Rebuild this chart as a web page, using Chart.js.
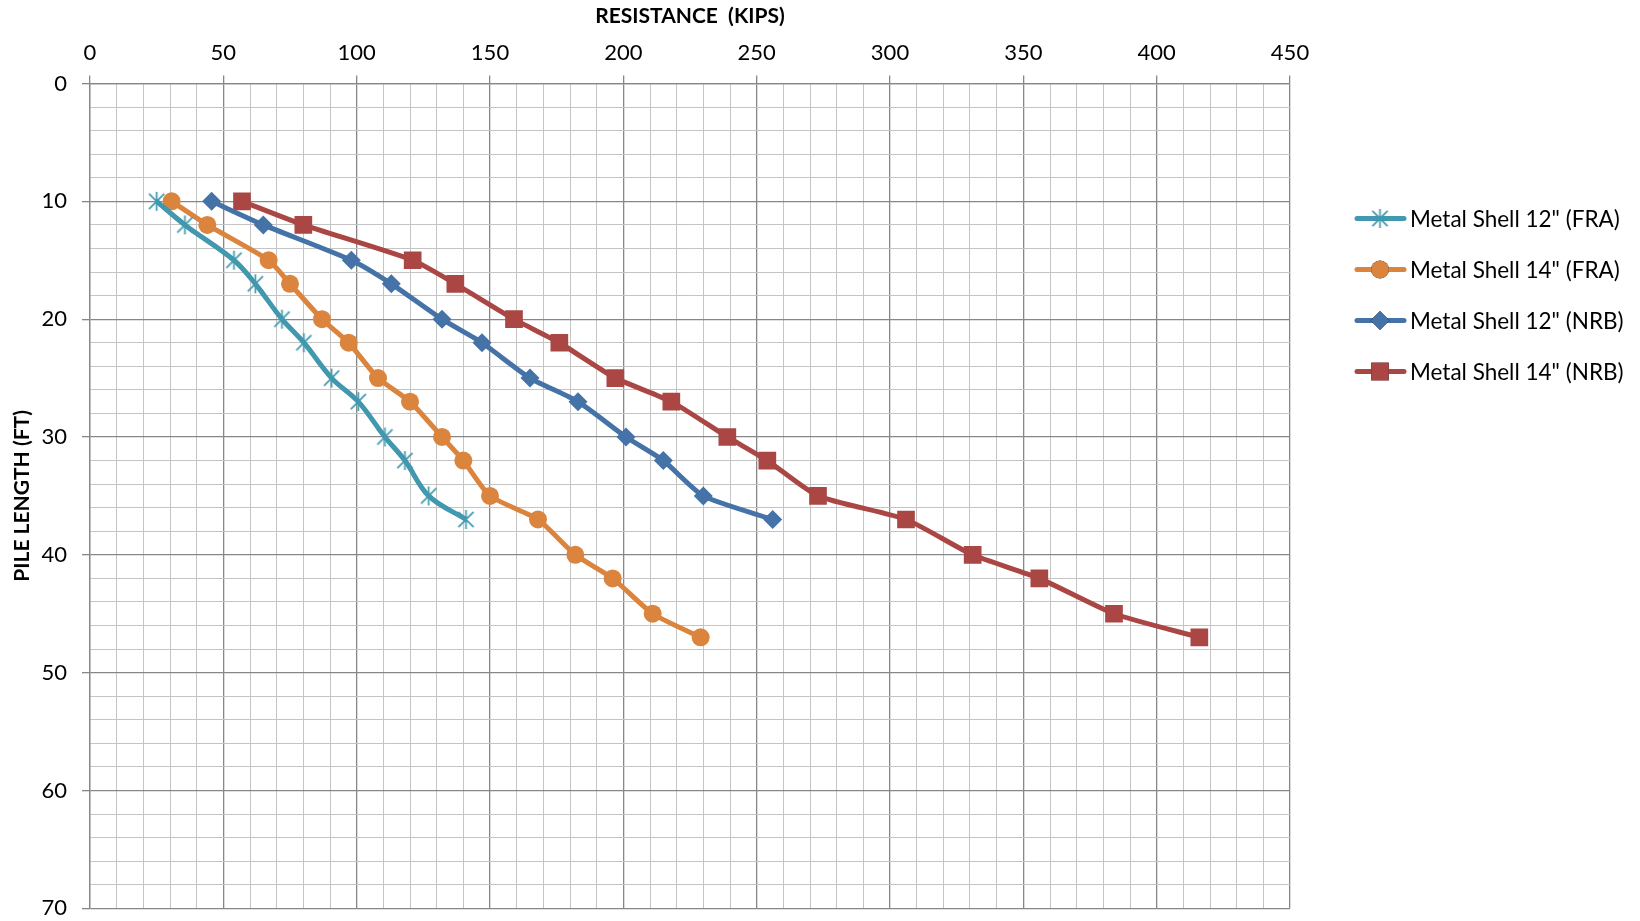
<!DOCTYPE html>
<html>
<head>
<meta charset="utf-8">
<script src="https://cdn.jsdelivr.net/npm/chart.js@4"></script>
<style>
  body { margin: 0; background: #fff; }
  #wrap { width: 1640px; height: 921px; }
</style>
</head>
<body>
<div id="wrap"><canvas id="chart" width="1640" height="921"></canvas></div>
<script>
// pile length (ft) for each curve
const depthFra12 = [10, 12, 15, 17, 20, 22, 25, 27, 30, 32, 35, 37]
const depthFra14 = [10, 12, 15, 17, 20, 22, 25, 27, 30, 32, 35, 37, 40, 42, 45, 47]
const depthNrb12 = [10, 12, 15, 17, 20, 22, 25, 27, 30, 32, 35, 37]
const depthNrb14 = [10, 12, 15, 17, 20, 22, 25, 27, 30, 32, 35, 37, 40, 42, 45, 47]

// resistance (kips)
const resFra12 = [25, 35.6, 54, 62, 72, 80.2, 90.6, 100.6, 110.6, 118.1, 127, 141]
const resFra14 = [30.6, 44, 67, 75, 87, 97, 108, 120, 132, 140, 150, 168, 182, 196, 211, 229]
const resNrb12 = [45.6, 65, 98, 113, 132, 147, 165, 183, 201, 215, 230, 256]
const resNrb14 = [57, 80, 121, 137, 159, 176, 197, 218, 239, 254, 273, 306, 331, 356, 384, 416]

const seriesLabels = [
  'Metal Shell 12" (FRA)',
  'Metal Shell 14" (FRA)',
  'Metal Shell 12" (NRB)',
  'Metal Shell 14" (NRB)'
]

const xTitle = 'RESISTANCE  (KIPS)'
const yTitle = 'PILE LENGTH (FT)'

const FONT = 'Lato, "Open Sans", sans-serif'
const MAJOR = '#878787'
const MINOR = '#c4c4c4'

// 6-arm asterisk marker like the spreadsheet "star"
function starMarker(color, r) {
  const c = document.createElement('canvas')
  const s = Math.ceil(r * 2 + 4)
  c.width = s
  c.height = s
  const g = c.getContext('2d')
  const m = s / 2
  g.strokeStyle = color
  g.lineWidth = 1.7
  g.beginPath()
  g.moveTo(m, m - r); g.lineTo(m, m + r)
  const d = r * 0.8
  g.moveTo(m - d, m - d); g.lineTo(m + d, m + d)
  g.moveTo(m - d, m + d); g.lineTo(m + d, m - d)
  g.stroke()
  return c
}

const toPoints = (xs, ys) => xs.map((x, i) => ({ x, y: ys[i] }))

const teal = '#4198AF'
const orange = '#DB843D'
const blue = '#4572A7'
const red = '#AA4643'
const star = starMarker(teal, 9.5)

const datasets = [
  { label: seriesLabels[0], data: toPoints(resFra12, depthFra12), borderColor: teal, backgroundColor: teal, pointStyle: star, pointRadius: 9.5, tension: 0.35 },
  { label: seriesLabels[1], data: toPoints(resFra14, depthFra14), borderColor: orange, backgroundColor: orange, pointStyle: 'circle', pointRadius: 9, tension: 0.2 },
  { label: seriesLabels[2], data: toPoints(resNrb12, depthNrb12), borderColor: blue, backgroundColor: blue, pointStyle: 'rectRot', pointRadius: 9.5, tension: 0.2 },
  { label: seriesLabels[3], data: toPoints(resNrb14, depthNrb14), borderColor: red, backgroundColor: red, pointStyle: 'rect', pointRadius: 12.5, tension: 0.2 }
].map(d => ({
  ...d,
  showLine: true,
  borderWidth: 5,
  pointBorderWidth: 0,
  pointBorderColor: d.borderColor,
  pointHoverRadius: d.pointRadius
}))

// legend on the right, drawn with each dataset's own style
const sideLegend = {
  id: 'sideLegend',
  afterDraw(chart) {
    const ctx = chart.ctx
    chart.data.datasets.forEach((ds, i) => {
      const y = 218.5 + i * 51
      ctx.save()
      ctx.strokeStyle = ds.borderColor
      ctx.lineWidth = 5
      ctx.lineCap = 'round'
      ctx.beginPath()
      ctx.moveTo(1357, y)
      ctx.lineTo(1404, y)
      ctx.stroke()
      Chart.helpers.drawPoint(ctx, {
        pointStyle: ds.pointStyle,
        radius: ds.pointRadius,
        borderWidth: 0
      }, 1380, y)
      ctx.fillStyle = ds.backgroundColor
      if (typeof ds.pointStyle === 'string') {
        ctx.fill()
      }
      ctx.fillStyle = '#000'
      ctx.font = '22.5px ' + FONT
      ctx.textBaseline = 'middle'
      ctx.textAlign = 'left'
      ctx.fillText(ds.label, 1410, y + 1)
      ctx.restore()
    })
  }
}

const gridStyle = major => ({
  color: ctx => (major(ctx.tick.value) ? MAJOR : MINOR),
  lineWidth: ctx => (major(ctx.tick.value) ? 1.3 : 1),
  tickColor: ctx => (major(ctx.tick.value) ? MAJOR : 'rgba(0,0,0,0)'),
  tickLength: 8,
  drawTicks: true
})

new Chart(document.getElementById('chart'), {
  type: 'scatter',
  data: { datasets },
  plugins: [sideLegend],
  options: {
    responsive: false,
    animation: false,
    devicePixelRatio: 1,
    layout: { padding: { top: 0, left: 0, right: 350, bottom: 12.7 } },
    plugins: {
      legend: { display: false },
      tooltip: { enabled: false }
    },
    scales: {
      x: {
        type: 'linear',
        position: 'top',
        min: 0,
        max: 450,
        afterFit: scale => {
          scale.height = 83.5
          scale.paddingLeft = 0
          scale.paddingRight = 0
        },
        border: { color: MAJOR, width: 1.3 },
        grid: gridStyle(v => v % 50 === 0),
        ticks: {
          stepSize: 10,
          autoSkip: false,
          maxRotation: 0,
          padding: 9,
          color: '#000',
          font: { family: FONT, size: 22 },
          callback: v => (v % 50 === 0 ? v : '')
        },
        title: {
          display: true,
          text: xTitle,
          color: '#000',
          font: { family: FONT, size: 21, weight: 'bold' },
          padding: { top: 4, bottom: 0 }
        }
      },
      y: {
        type: 'linear',
        position: 'left',
        reverse: true,
        min: 0,
        max: 70,
        afterFit: scale => {
          scale.width = 90
          scale.paddingTop = 0
          scale.paddingBottom = 0
        },
        border: { color: MAJOR, width: 1.3 },
        grid: gridStyle(v => v % 10 === 0),
        ticks: {
          stepSize: 2,
          autoSkip: false,
          padding: 15,
          color: '#000',
          font: { family: FONT, size: 22 },
          callback: v => (v % 10 === 0 ? v : '')
        },
        title: {
          display: true,
          text: yTitle,
          color: '#000',
          font: { family: FONT, size: 21, weight: 'bold' },
          padding: { top: 10, bottom: 0 }
        }
      }
    }
  }
})
</script>
</body>
</html>
